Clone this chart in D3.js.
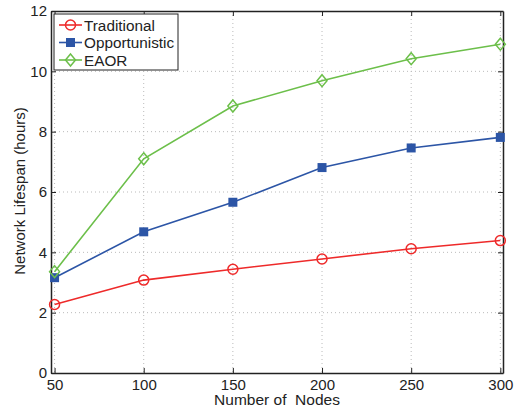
<!DOCTYPE html>
<html lang="en">
<head>
<meta charset="UTF-8">
<title>Network Lifespan</title>
<script src="https://cdn.jsdelivr.net/npm/d3@7"></script>
<style>
  body { margin: 0; background: #fff; }
  text { font-family: "Liberation Sans", Arial, sans-serif; fill: #222; white-space: pre; }
</style>
</head>
<body>
<svg id="svg" width="522" height="414"></svg>
<script>
    // data
    var nodes = [50, 100, 150, 200, 250, 300];
    var traditional = [2.27, 3.08, 3.44, 3.78, 4.12, 4.39];
    var opportunistic = [3.16, 4.68, 5.66, 6.81, 7.46, 7.81];
    var eaor = [3.36, 7.1, 8.85, 9.69, 10.42, 10.9];
    var yTicks = [0, 2, 4, 6, 8, 10, 12];

    var series = [
        {name: "Traditional", values: traditional, color: "#ee2a2a", marker: "circle"},
        {name: "Opportunistic", values: opportunistic, color: "#2c55a6", marker: "square"},
        {name: "EAOR", values: eaor, color: "#6cbf4a", marker: "diamond"}
    ];

    var pLeft = 51, pRight = 503, pTop = 11, pBottom = 373;
    var svg = d3.select("#svg");

    var x = d3.scaleLinear().domain([48, 301.5]).range([pLeft, pRight]);
    var y = d3.scaleLinear().domain([0, 12]).range([pBottom, pTop]);

    // 网格 (dotted)
    var grid = svg.append("g").attr("stroke", "#bbb").attr("stroke-width", 1).attr("stroke-dasharray", "1,3");
    grid.selectAll(".gx").data(nodes).enter().append("line")
        .attr("x1", function (d) { return x(d); }).attr("x2", function (d) { return x(d); })
        .attr("y1", pTop).attr("y2", pBottom);
    grid.selectAll(".gy").data(yTicks.slice(1, -1)).enter().append("line")
        .attr("y1", function (d) { return y(d); }).attr("y2", function (d) { return y(d); })
        .attr("x1", pLeft).attr("x2", pRight);

    // axes, ticks pointing inward, closed box
    var axB = svg.append("g").attr("transform", "translate(0," + pBottom + ")")
        .call(d3.axisBottom(x).tickValues(nodes).tickSizeInner(-5).tickSizeOuter(0).tickPadding(6));
    var axT = svg.append("g").attr("transform", "translate(0," + pTop + ")")
        .call(d3.axisTop(x).tickValues(nodes).tickSizeInner(-5).tickSizeOuter(0).tickFormat(""));
    var axL = svg.append("g").attr("transform", "translate(" + pLeft + ",0)")
        .call(d3.axisLeft(y).tickValues(yTicks).tickSizeInner(-5).tickSizeOuter(0).tickPadding(4));
    var axR = svg.append("g").attr("transform", "translate(" + pRight + ",0)")
        .call(d3.axisRight(y).tickValues(yTicks).tickSizeInner(-5).tickSizeOuter(0).tickFormat(""));

    [axB, axT, axL, axR].forEach(function (a) {
        a.select(".domain").attr("stroke", "#222").attr("stroke-width", 1.5);
        a.selectAll(".tick line").attr("stroke", "#222");
        a.selectAll("text").style("font-size", "15px").attr("fill", "#222");
    });

    svg.append("text").attr("x", 277).attr("y", 405).attr("text-anchor", "middle")
        .style("font-size", "15.5px").text("Number of  Nodes");
    svg.append("text").attr("transform", "translate(25,191) rotate(-90)").attr("text-anchor", "middle")
        .style("font-size", "15px").text("Network Lifespan (hours)");

    var line = d3.line()
        .x(function (d, i) { return x(nodes[i]); })
        .y(function (d) { return y(d); });

    function drawMarker(g, type, color, cx, cy) {
        if (type === "circle") {
            g.append("circle").attr("cx", cx).attr("cy", cy).attr("r", 5)
                .attr("fill", "none").attr("stroke", color).attr("stroke-width", 1.5);
        } else if (type === "square") {
            g.append("rect").attr("x", cx - 4.5).attr("y", cy - 4.5).attr("width", 9).attr("height", 9)
                .attr("fill", color);
        } else {
            g.append("path").attr("d", "M" + cx + "," + (cy - 6) + "L" + (cx + 5) + "," + cy + "L" + cx + "," + (cy + 6) + "L" + (cx - 5) + "," + cy + "Z")
                .attr("fill", "none").attr("stroke", color).attr("stroke-width", 1.5);
        }
    }

    var plot = svg.append("g");
    series.forEach(function (s) {
        plot.append("path").datum(s.values).attr("d", line)
            .attr("fill", "none").attr("stroke", s.color).attr("stroke-width", 1.6);
    });
    series.forEach(function (s) {
        s.values.forEach(function (v, i) {
            drawMarker(plot, s.marker, s.color, x(nodes[i]), y(v));
        });
    });

    // legend
    var lg = svg.append("g");
    lg.append("rect").attr("x", 54).attr("y", 14).attr("width", 124).attr("height", 56)
        .attr("fill", "#fff").attr("stroke", "#222").attr("stroke-width", 1);
    series.forEach(function (s, i) {
        var ly = 25 + i * 17.5;
        lg.append("line").attr("x1", 59).attr("x2", 82).attr("y1", ly).attr("y2", ly)
            .attr("stroke", s.color).attr("stroke-width", 1.6);
        drawMarker(lg, s.marker, s.color, 70.5, ly);
        lg.append("text").attr("x", 84).attr("y", ly + 5.5).style("font-size", "15.3px").text(s.name);
    });
</script>
</body>
</html>
